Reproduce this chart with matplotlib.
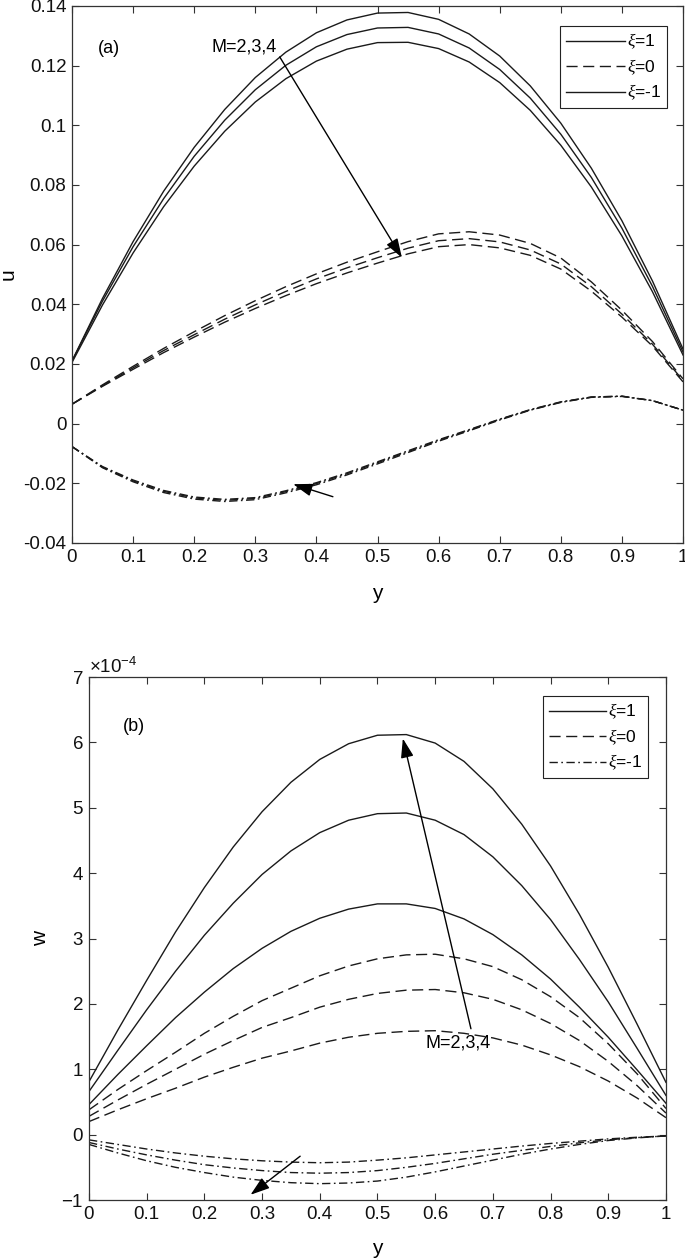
import numpy as np
import matplotlib
matplotlib.use("Agg")
import matplotlib.pyplot as plt
from matplotlib.lines import Line2D
from matplotlib.ticker import ScalarFormatter

plt.rcParams['font.family'] = ['Liberation Sans', 'DejaVu Sans']
plt.rcParams['mathtext.fontset'] = 'custom'
plt.rcParams['mathtext.rm'] = 'Liberation Sans'
plt.rcParams['mathtext.it'] = 'Liberation Serif:italic'
plt.rcParams['axes.unicode_minus'] = False

# y grid shared by every curve
y = [0, 0.05, 0.1, 0.15, 0.2, 0.25, 0.3, 0.35, 0.4, 0.45, 0.5,
     0.55, 0.6, 0.65, 0.7, 0.75, 0.8, 0.85, 0.9, 0.95, 1.0]

# (a) u, xi=1 (solid), M=2,3,4
u_xi1_M2 = [0.021, 0.0420, 0.0610, 0.0779, 0.0926, 0.1053, 0.1160, 0.1245, 0.1310, 0.1353, 0.1376,
            0.1378, 0.1355, 0.1306, 0.1232, 0.1132, 0.1007, 0.0856, 0.0680, 0.0478, 0.025]
u_xi1_M3 = [0.021, 0.0411, 0.0593, 0.0754, 0.0896, 0.1017, 0.1119, 0.1201, 0.1263, 0.1304, 0.1326,
            0.1328, 0.1306, 0.1259, 0.1187, 0.1091, 0.0970, 0.0825, 0.0655, 0.0460, 0.024]
u_xi1_M4 = [0.0205, 0.0398, 0.0572, 0.0727, 0.0863, 0.0980, 0.1078, 0.1156, 0.1215, 0.1255, 0.1277,
            0.1278, 0.1257, 0.1212, 0.1143, 0.1050, 0.0933, 0.0793, 0.0629, 0.0442, 0.023]
# (a) u, xi=0 (dashed)
u_xi0_M2 = [0.0065, 0.0130, 0.0192, 0.0252, 0.0308, 0.0362, 0.0412, 0.0459, 0.0502, 0.0541, 0.0576,
            0.0610, 0.0636, 0.0643, 0.0632, 0.0604, 0.0555, 0.0475, 0.0380, 0.0275, 0.0150]
u_xi0_M3 = [0.0065, 0.0127, 0.0187, 0.0245, 0.0298, 0.0350, 0.0398, 0.0443, 0.0485, 0.0522, 0.0556,
            0.0588, 0.0613, 0.0620, 0.0609, 0.0582, 0.0535, 0.0459, 0.0367, 0.0266, 0.0145]
u_xi0_M4 = [0.0065, 0.0125, 0.0182, 0.0238, 0.0290, 0.0340, 0.0386, 0.0429, 0.0469, 0.0505, 0.0538,
            0.0569, 0.0593, 0.0600, 0.0589, 0.0564, 0.0518, 0.0444, 0.0357, 0.0260, 0.0140]
# (a) u, xi=-1 (dash-dot)
u_xim1_M2 = [-0.0077, -0.0148, -0.0195, -0.0231, -0.0253, -0.0261, -0.0255, -0.0232, -0.0205, -0.0172, -0.0135,
             -0.0097, -0.0059, -0.0024, 0.0012, 0.0045, 0.0071, 0.0088, 0.0091, 0.0077, 0.0045]
u_xim1_M3 = [-0.0077, -0.0146, -0.0192, -0.0227, -0.0249, -0.0257, -0.0251, -0.0228, -0.0201, -0.0168, -0.0131,
             -0.0094, -0.0056, -0.0022, 0.0014, 0.0046, 0.0072, 0.0089, 0.0092, 0.0077, 0.0045]
u_xim1_M4 = [-0.0077, -0.0144, -0.0189, -0.0224, -0.0246, -0.0254, -0.0248, -0.0225, -0.0198, -0.0165, -0.0128,
             -0.0091, -0.0054, -0.0020, 0.0015, 0.0047, 0.0073, 0.0089, 0.0092, 0.0077, 0.0045]

# (b) w in units of 1e-4
w_xi1_M2 = [0.46, 0.92, 1.36, 1.79, 2.18, 2.54, 2.85, 3.11, 3.31, 3.45, 3.53,
            3.53, 3.46, 3.30, 3.06, 2.75, 2.38, 1.95, 1.49, 0.99, 0.48]
w_xi1_M3 = [0.66, 1.29, 1.91, 2.50, 3.05, 3.54, 3.98, 4.34, 4.62, 4.81, 4.91,
            4.92, 4.81, 4.59, 4.25, 3.81, 3.29, 2.68, 2.03, 1.32, 0.60]
w_xi1_M4 = [0.81, 1.60, 2.36, 3.10, 3.78, 4.40, 4.94, 5.39, 5.74, 5.98, 6.11,
            6.12, 5.99, 5.71, 5.29, 4.75, 4.11, 3.37, 2.56, 1.69, 0.80]
w_xi0_M2 = [0.20, 0.38, 0.55, 0.71, 0.88, 1.03, 1.17, 1.28, 1.40, 1.49, 1.55,
            1.58, 1.59, 1.55, 1.48, 1.37, 1.22, 1.04, 0.82, 0.56, 0.26]
w_xi0_M3 = [0.28, 0.53, 0.77, 1.00, 1.23, 1.44, 1.64, 1.79, 1.95, 2.07, 2.16,
            2.21, 2.22, 2.17, 2.07, 1.91, 1.70, 1.44, 1.12, 0.75, 0.33]
w_xi0_M4 = [0.38, 0.69, 0.98, 1.26, 1.55, 1.81, 2.05, 2.24, 2.43, 2.58, 2.69,
            2.75, 2.76, 2.69, 2.57, 2.37, 2.11, 1.79, 1.39, 0.93, 0.40]
w_xim1_M2 = [-0.08, -0.15, -0.22, -0.28, -0.33, -0.37, -0.40, -0.42, -0.43, -0.42, -0.39,
             -0.355, -0.31, -0.265, -0.22, -0.175, -0.135, -0.10, -0.065, -0.04, -0.02]
w_xim1_M3 = [-0.12, -0.22, -0.31, -0.39, -0.46, -0.51, -0.55, -0.58, -0.59, -0.58, -0.55,
             -0.50, -0.44, -0.37, -0.30, -0.24, -0.18, -0.125, -0.08, -0.045, -0.02]
w_xim1_M4 = [-0.15, -0.28, -0.40, -0.50, -0.58, -0.65, -0.70, -0.735, -0.75, -0.74, -0.71,
             -0.65, -0.57, -0.48, -0.39, -0.30, -0.22, -0.15, -0.09, -0.05, -0.02]

xticks = [0, 0.1, 0.2, 0.3, 0.4, 0.5, 0.6, 0.7, 0.8, 0.9, 1]
xticklabels = ['0', '0.1', '0.2', '0.3', '0.4', '0.5', '0.6', '0.7', '0.8', '0.9', '1']
uticks = [-0.04, -0.02, 0, 0.02, 0.04, 0.06, 0.08, 0.1, 0.12, 0.14]
uticklabels = ['-0.04', '-0.02', '0', '0.02', '0.04', '0.06', '0.08', '0.1', '0.12', '0.14']
legend_labels = [r'$\xi$=1', r'$\xi$=0', r'$\xi$=-1']

line_col = '#1a1a1a'
dash = (0, (8, 4))
dashdot = (0, (6, 2.5, 1.2, 2.5))
spine_col = '#333333'
arrow_kw = dict(arrowstyle='-|>,head_length=0.9,head_width=0.3', color='k',
                lw=1, mutation_scale=13, shrinkA=0, shrinkB=0)

fig = plt.figure(figsize=(6.85, 12.58), dpi=100)
ax1 = fig.add_axes([0.1051, 0.5684, 0.892, 0.4269])
ax2 = fig.add_axes([0.1299, 0.0461, 0.8423, 0.4157])


def style(ax):
    ax.tick_params(direction='in', top=True, right=True, length=5, width=0.8,
                   labelsize=13.5, colors=spine_col, labelcolor='#111111', pad=4)
    for sp in ax.spines.values():
        sp.set_linewidth(0.9)
        sp.set_color(spine_col)
    ax.set_xlim(0, 1)
    ax.set_xticks(xticks)
    ax.set_xticklabels(xticklabels)


# ---- (a)
for ser in [u_xi1_M2, u_xi1_M3, u_xi1_M4]:
    ax1.plot(y, ser, color=line_col, lw=1.0)
for ser in [u_xi0_M2, u_xi0_M3, u_xi0_M4]:
    ax1.plot(y, ser, color=line_col, lw=1.0, linestyle=dash)
for ser in [u_xim1_M2, u_xim1_M3, u_xim1_M4]:
    ax1.plot(y, ser, color=line_col, lw=1.0, linestyle=dashdot)
style(ax1)
ax1.set_ylim(-0.04, 0.14)
ax1.set_yticks(uticks)
ax1.set_yticklabels(uticklabels)
ax1.set_xlabel('y', fontsize=15, labelpad=13)
ax1.set_ylabel('u', fontsize=15, labelpad=4)
ax1.text(0.061, 0.1256, '(a)', fontsize=13, ha='center', va='center')
ax1.text(0.282, 0.1263, 'M=2,3,4', fontsize=13, ha='center', va='center')
ax1.annotate('', xy=(0.540, 0.0556), xytext=(0.340, 0.1229), arrowprops=arrow_kw)
ax1.annotate('', xy=(0.362, -0.0203), xytext=(0.427, -0.0245), arrowprops=arrow_kw)
h1 = [Line2D([], [], color=line_col, lw=1.0),
      Line2D([], [], color=line_col, lw=1.0, linestyle=dash),
      Line2D([], [], color=line_col, lw=1.0)]
leg1 = ax1.legend(h1, legend_labels, loc='upper right', bbox_to_anchor=(0.974, 0.963),
                  borderaxespad=0, fontsize=12.5, handlelength=3.4, handletextpad=0.1,
                  labelspacing=0.35, fancybox=False, framealpha=1, edgecolor='#222222',
                  borderpad=0.35)
leg1.get_frame().set_linewidth(0.8)

# ---- (b)
s = 1e-4
for ser in [w_xi1_M2, w_xi1_M3, w_xi1_M4]:
    ax2.plot(y, np.array(ser) * s, color=line_col, lw=1.0)
for ser in [w_xi0_M2, w_xi0_M3, w_xi0_M4]:
    ax2.plot(y, np.array(ser) * s, color=line_col, lw=1.0, linestyle=dash)
for ser in [w_xim1_M2, w_xim1_M3, w_xim1_M4]:
    ax2.plot(y, np.array(ser) * s, color=line_col, lw=1.0, linestyle=dashdot)
style(ax2)
ax2.set_ylim(-1e-4, 7e-4)
ax2.set_yticks(np.arange(-1, 8) * 1e-4)
fmt = ScalarFormatter(useMathText=True)
fmt.set_powerlimits((0, 0))
ax2.yaxis.set_major_formatter(fmt)
ax2.yaxis.get_offset_text().set_fontsize(13.5)
ax2.set_xlabel('y', fontsize=15, labelpad=12)
ax2.set_ylabel('w', fontsize=15, labelpad=8)
ax2.text(0.078, 6.25e-4, '(b)', fontsize=13, ha='center', va='center')
ax2.text(0.64, 1.40e-4, 'M=2,3,4', fontsize=13, ha='center', va='center')
ax2.annotate('', xy=(0.544, 6.06e-4), xytext=(0.662, 1.62e-4), arrowprops=arrow_kw)
ax2.annotate('', xy=(0.28, -0.92e-4), xytext=(0.366, -0.33e-4), arrowprops=arrow_kw)
h2 = [Line2D([], [], color=line_col, lw=1.0),
      Line2D([], [], color=line_col, lw=1.0, linestyle=dash),
      Line2D([], [], color=line_col, lw=1.0, linestyle=dashdot)]
leg2 = ax2.legend(h2, legend_labels, loc='upper right', bbox_to_anchor=(0.969, 0.964),
                  borderaxespad=0, fontsize=12.5, handlelength=3.3, handletextpad=0.1,
                  labelspacing=0.35, fancybox=False, framealpha=1, edgecolor='#222222',
                  borderpad=0.35)
leg2.get_frame().set_linewidth(0.8)

fig.savefig('out.png', dpi=100)
